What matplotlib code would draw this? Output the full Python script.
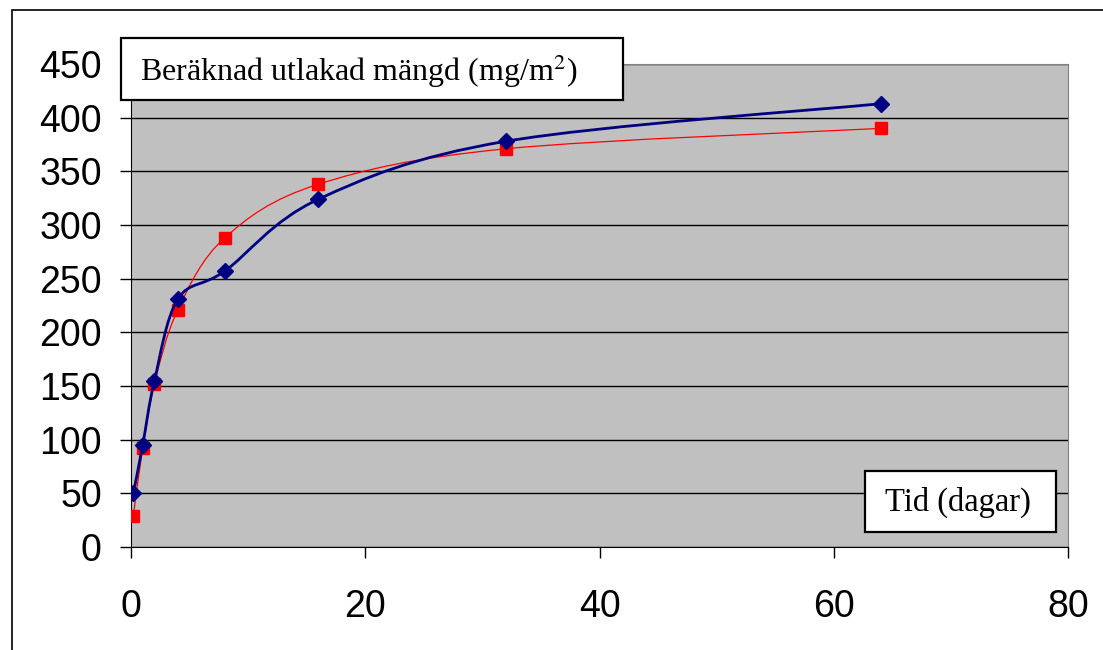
import numpy as np
import matplotlib.pyplot as plt
from matplotlib.path import Path
from matplotlib.patches import PathPatch, Rectangle

# data
tid = [0.2, 1, 2, 4, 8, 16, 32, 64]
blue_vals = [50, 95, 155, 231, 257, 324, 378, 413]
red_vals = [29, 92, 152, 221, 288, 338, 371, 390]

x_ticks = [0, 20, 40, 60, 80]
y_ticks = [0, 50, 100, 150, 200, 250, 300, 350, 400, 450]

W, H = 1103, 650


def smooth_path(xs, ys):
    # Excel-like smoothed line: cubic Bezier segments through the points
    pts = np.column_stack([xs, ys]).astype(float)
    n = len(pts)
    verts = [pts[0]]
    codes = [Path.MOVETO]
    for i in range(n - 1):
        p0 = pts[max(i - 1, 0)]
        p1 = pts[i]
        p2 = pts[i + 1]
        p3 = pts[min(i + 2, n - 1)]
        c1 = p1 + (p2 - p0) / 6.0
        c2 = p2 - (p3 - p1) / 6.0
        verts += [c1, c2, p2]
        codes += [Path.CURVE4] * 3
    return Path(verts, codes)


def px_box(x0, y0, x1, y1):
    # rectangle given in pixel coords (top-left origin) -> figure coords
    return Rectangle((x0 / W, 1 - y1 / H), (x1 - x0) / W, (y1 - y0) / H,
                     transform=fig.transFigure, facecolor="white",
                     edgecolor="black", linewidth=1.6, zorder=10)


fig = plt.figure(figsize=(W / 100, H / 100), dpi=100)
fig.patch.set_facecolor("white")

# outer chart border
fig.add_artist(Rectangle((12 / W, -0.1), 1.2, 1.1 - 10 / H,
                         transform=fig.transFigure, fill=False,
                         edgecolor="black", linewidth=1.2))

ax = fig.add_axes([131 / W, 1 - 547 / H, (1068 - 131) / W, (547 - 64) / H])
ax.set_facecolor("#C0C0C0")
ax.set_xlim(0, 80)
ax.set_ylim(0, 450)
ax.set_xticks(x_ticks)
ax.set_yticks(y_ticks)
ax.tick_params(labelsize=27, length=8, width=1, direction="out")
ax.tick_params(axis="y", pad=13)
ax.tick_params(axis="x", pad=22)
for lab in ax.get_xticklabels() + ax.get_yticklabels():
    lab.set_fontfamily("Liberation Sans")
ax.grid(axis="y", color="black", linewidth=1)
ax.set_axisbelow(True)
for side in ["top", "right"]:
    ax.spines[side].set_color("#808080")
for side in ["left", "bottom"]:
    ax.spines[side].set_color("black")

ax.add_patch(PathPatch(smooth_path(tid, red_vals), fill=False,
                       edgecolor="#FF0000", linewidth=0.9, zorder=3))
ax.plot(tid, red_vals, linestyle="none", marker="s", markersize=8.5,
        color="#FF0000", zorder=4)
ax.add_patch(PathPatch(smooth_path(tid, blue_vals), fill=False,
                       edgecolor="#000080", linewidth=2, zorder=5))
ax.plot(tid, blue_vals, linestyle="none", marker="D", markersize=8.5,
        color="#000080", zorder=6)

# text boxes
fig.add_artist(px_box(121, 38, 623, 100))
fig.text(140 / W, 1 - 71 / H, "Beräknad utlakad mängd (mg/m$^2$)",
         fontsize=23, family="Liberation Serif", va="center", ha="left",
         math_fontfamily="stix", zorder=11)
fig.add_artist(px_box(865, 471, 1056, 532))
fig.text(958 / W, 1 - 502 / H, "Tid (dagar)",
         fontsize=23.5, family="Liberation Serif", va="center", ha="center",
         zorder=11)

fig.savefig("out.png", dpi=100)
